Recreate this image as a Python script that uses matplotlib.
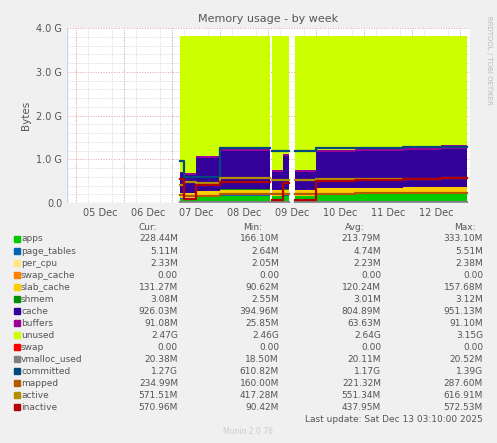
import matplotlib
matplotlib.use("Agg")
import matplotlib.pyplot as plt
import numpy as np

# time in days of December (05 Dec noon = 5.5)
t = [7.17, 7.25, 7.5, 8.0, 9.04, 9.08, 9.3, 9.43, 9.56, 10.0, 10.8, 11.8, 12.6, 13.13]
nan = np.nan
# stacked areas (GB), one value per segment
apps = [0.10, 0.12, 0.15, 0.17, nan, 0.16, 0.17, nan, 0.16, 0.20, 0.21, 0.22, 0.23]
page_tables = [0.005] * 4 + [nan] + [0.005] * 2 + [nan] + [0.005] * 5
per_cpu = [0.002] * 4 + [nan] + [0.002] * 2 + [nan] + [0.002] * 5
swap_cache = [0.0] * 4 + [nan] + [0.0] * 2 + [nan] + [0.0] * 5
slab_cache = [0.12, 0.10, 0.12, 0.13, nan, 0.12, 0.13, nan, 0.12, 0.13, 0.13, 0.13, 0.13]
shmem = [0.003] * 4 + [nan] + [0.003] * 2 + [nan] + [0.003] * 5
cache = [0.45, 0.42, 0.75, 0.88, nan, 0.43, 0.77, nan, 0.42, 0.83, 0.85, 0.86, 0.87]
buffers = [0.03, 0.03, 0.04, 0.05, nan, 0.04, 0.04, nan, 0.04, 0.05, 0.06, 0.07, 0.09]
total = 3.82
# overlay lines
swap = [0.0] * 4 + [nan] + [0.0] * 2 + [nan] + [0.0] * 5
vmalloc_used = [0.02] * 4 + [nan] + [0.02] * 2 + [nan] + [0.02] * 5
committed = [0.95, 0.6, 0.6, 1.25, nan, 1.2, 1.2, nan, 1.18, 1.25, 1.26, 1.27, 1.27]
mapped = [0.18, 0.16, 0.17, 0.2, nan, 0.2, 0.2, nan, 0.2, 0.21, 0.22, 0.23, 0.23]
active = [0.42, 0.47, 0.45, 0.58, nan, 0.52, 0.52, nan, 0.52, 0.55, 0.55, 0.56, 0.57]
inactive = [0.55, 0.1, 0.42, 0.47, nan, 0.08, 0.45, nan, 0.08, 0.5, 0.52, 0.55, 0.57]

names = ["apps", "page_tables", "per_cpu", "swap_cache", "slab_cache", "shmem", "cache",
         "buffers", "unused", "swap", "vmalloc_used", "committed", "mapped", "active", "inactive"]
colors = ["#00CC00", "#0066B3", "#FFE680", "#FF8000", "#FFCC00", "#008F00", "#330099",
          "#990099", "#CCFF00", "#FF0000", "#808080", "#00487D", "#B35A00", "#B38F00", "#B30000"]
cur = ["228.44M", "5.11M", "2.33M", "0.00", "131.27M", "3.08M", "926.03M", "91.08M", "2.47G",
       "0.00", "20.38M", "1.27G", "234.99M", "571.51M", "570.96M"]
mins = ["166.10M", "2.64M", "2.05M", "0.00", "90.62M", "2.55M", "394.96M", "25.85M", "2.46G",
        "0.00", "18.50M", "610.82M", "160.00M", "417.28M", "90.42M"]
avgs = ["213.79M", "4.74M", "2.23M", "0.00", "120.24M", "3.01M", "804.89M", "63.63M", "2.64G",
        "0.00", "20.11M", "1.17G", "221.32M", "551.34M", "437.95M"]
maxs = ["333.10M", "5.51M", "2.38M", "0.00", "157.68M", "3.12M", "951.13M", "91.10M", "3.15G",
        "0.00", "20.52M", "1.39G", "287.60M", "616.91M", "572.53M"]

W, H = 497, 443
fig = plt.figure(figsize=(W / 100, H / 100), dpi=100, facecolor="#F0F0F0")
ax = fig.add_axes([67 / W, 1 - 203 / H, 403 / W, 175 / H], facecolor="white")


def stepify(v):
    # each segment i spans t[i]..t[i+1] with value v[i]
    xs, ys = [], []
    for i, val in enumerate(v):
        xs += [t[i], t[i + 1]]
        ys += [val, val]
    return np.array(xs), np.array(ys, dtype=float)


stack = [apps, page_tables, per_cpu, swap_cache, slab_cache, shmem, cache, buffers]
xs, _ = stepify(apps)
base = np.zeros(len(xs))
for s, c in zip(stack, colors[:8]):
    top = base + stepify(s)[1]
    ax.fill_between(xs, base, top, color=c, lw=0)
    base = top
ax.fill_between(xs, base, np.where(np.isnan(base), nan, total), color=colors[8], lw=0)

for s, c in zip([swap, vmalloc_used, committed, mapped, active, inactive], colors[9:]):
    lx, ly = stepify(s)
    ax.plot(lx, ly, color=c, lw=1.6)

ax.set_xlim(4.81, 13.2)
ax.set_ylim(0, 4.0)
ax.set_xticks([5.5 + i for i in range(8)])
ax.set_xticklabels(["%02d Dec" % d for d in range(5, 13)])
ax.set_yticks([0, 1, 2, 3, 4])
ax.set_yticklabels(["0.0", "1.0 G", "2.0 G", "3.0 G", "4.0 G"])
ax.set_yticks(np.arange(0, 4.01, 0.2), minor=True)
ax.set_xticks(np.arange(5.0, 13.2, 0.25), minor=True)
ax.tick_params(length=0, labelsize=7, colors="#555555", which="both")
ax.grid(True, which="minor", color="#CCCCCC", ls=":", lw=0.6)
for d in range(5, 14):
    ax.axvline(d, color="#E8A0A0", ls=":", lw=0.7, zorder=0.5)
for y in range(5):
    ax.axhline(y, color="#E8A0A0", ls=":", lw=0.7, zorder=0.5)
ax.set_axisbelow(True)
for sp in ax.spines.values():
    sp.set_visible(False)
ax.axhline(0, color="#C8D4EE", lw=1)
ax.axvline(4.81, color="#C8D4EE", lw=1)
ax.set_ylabel("Bytes", fontsize=7.5, color="#555555")
ax.set_title("Memory usage - by week", fontsize=8, color="#555555", pad=4)
fig.text(489 / W, 1 - 60 / H, "RRDTOOL / TOBI OETIKER", rotation=270, fontsize=5,
         color="#BBBBBB", ha="center", va="center")

tc = "#555555"
fs = 6.5
hy = 227
for x, lab in [(148, "Cur:"), (253, "Min:"), (355, "Avg:"), (465, "Max:")]:
    fig.text(x / W, 1 - hy / H, lab, fontsize=fs, color=tc, ha="center", va="center")
for i, n in enumerate(names):
    y = 1 - (239 + 12 * i) / H
    fig.patches.append(plt.Rectangle((14 / W, y - 3 / H), 6 / W, 6 / H, color=colors[i],
                                     transform=fig.transFigure, figure=fig))
    fig.text(21 / W, y, n, fontsize=fs, color=tc, va="center")
    for x, v in [(178, cur[i]), (279, mins[i]), (381, avgs[i]), (483, maxs[i])]:
        fig.text(x / W, y, v, fontsize=fs, color=tc, va="center", ha="right")
fig.text(483 / W, 1 - 419 / H, "Last update: Sat Dec 13 03:10:00 2025", fontsize=fs,
         color=tc, ha="right", va="center")
fig.text(248 / W, 1 - 431 / H, "Munin 2.0.76", fontsize=5.5, color="#CCCCCC",
         ha="center", va="center")

fig.savefig("out.png", dpi=100, facecolor=fig.get_facecolor())
